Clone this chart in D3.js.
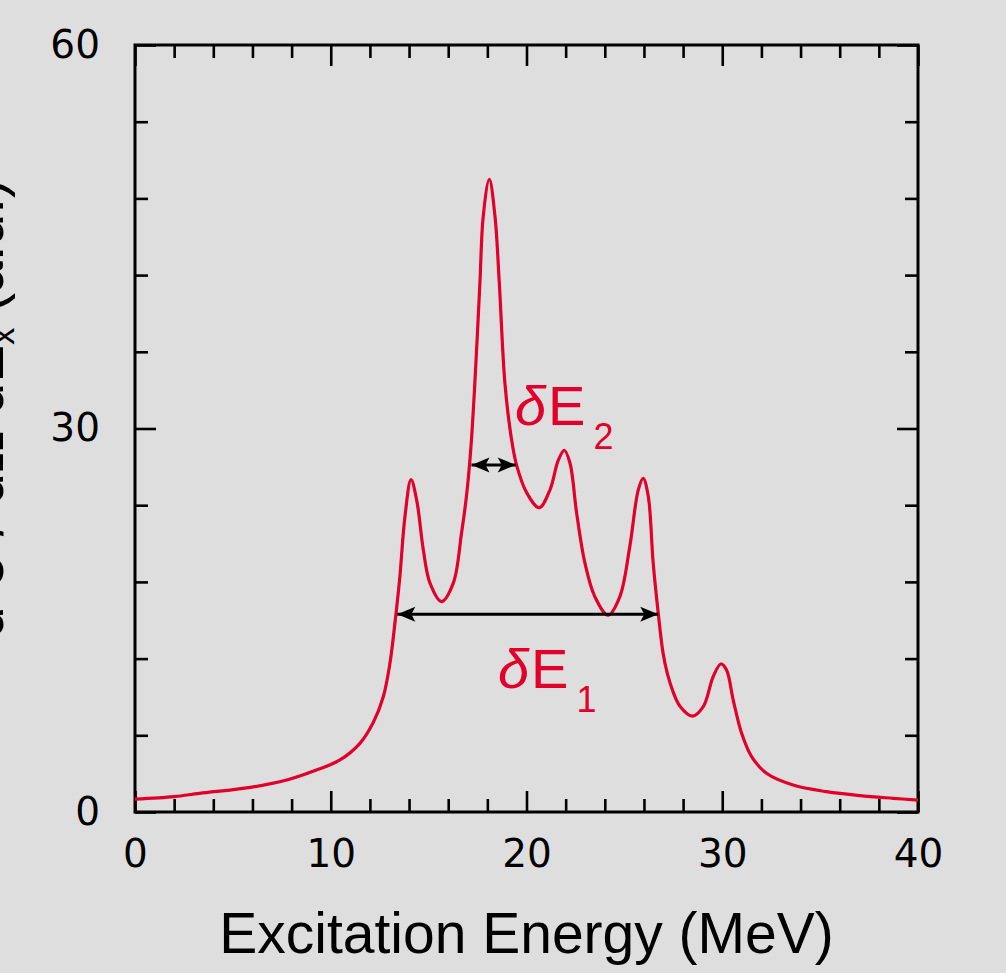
<!DOCTYPE html>
<html lang="en">
<head>
  <meta charset="UTF-8" />
  <title>Excitation Energy spectrum</title>
  <script src="https://d3js.org/d3.v7.min.js"></script>
  <style>
    html, body {
      margin: 0;
      padding: 0;
      background: #dedede;
    }
    svg {
      display: block;
      font-family: "Liberation Sans", Arial, sans-serif;
    }
  </style>
</head>
<body>
  <svg id="chart" width="1006" height="973"></svg>

  <script>
    // curve: excitation energy (MeV) and cross section (arb.)
    const energy = [
      0.0, 2.0, 3.3, 5.9, 7.75, 9.3, 10.47, 11.49, 12.17, 12.68,
      13.02, 13.28, 13.53, 13.79, 14.10, 14.39, 14.73, 15.07, 15.66, 16.26,
      16.68, 16.94, 17.15, 17.36, 17.62, 17.79, 18.10, 18.39, 18.61, 18.90,
      19.24, 19.49, 20.0, 20.65, 21.2, 21.62, 21.93, 22.22, 22.56, 22.98,
      23.49, 24.17, 24.77, 25.28, 25.71, 25.96, 26.22, 26.47, 26.73, 26.98,
      27.2, 27.49, 27.83, 28.48, 29.03, 29.54, 29.93, 30.22, 30.56, 30.99,
      31.5, 32.26, 33.62, 35.33, 37.03, 38.73, 40.0
    ];
    const crossSection = [
      1.0, 1.2, 1.46, 1.93, 2.5, 3.3, 4.07, 5.37, 7.0, 9.0,
      11.6, 14.8, 18.4, 23.1, 26.0, 24.4, 20.5, 17.9, 16.46, 17.9,
      21.8, 24.8, 28.3, 33.5, 41.4, 46.6, 49.5, 46.6, 41.4, 33.5,
      29.1, 27.15, 25.0, 23.8, 25.2, 27.5, 28.3, 27.3, 23.4, 19.5,
      16.85, 15.4, 16.85, 20.8, 25.2, 26.1, 24.7, 19.5, 15.55, 12.4,
      10.8, 9.4, 8.3, 7.5, 8.24, 10.6, 11.58, 11.1, 8.76, 6.16,
      4.33, 3.03, 2.11, 1.59, 1.28, 1.07, 0.93
    ];

    const xMajorTicks = [0, 10, 20, 30, 40];
    const xMinorTicks = [2, 4, 6, 8, 12, 14, 16, 18, 22, 24, 26, 28, 32, 34, 36, 38];
    const yMajorTicks = [0, 30, 60];
    const yMinorTicks = [6, 12, 18, 24, 36, 42, 48, 54];

    // width markers drawn as double arrows, with their red labels
    const widths = [
      { name: 'δE', sub: '1', level: 15.47, from: 13.40, to: 26.73, labelE: 18.54, labelY: 9.7 },
      { name: 'δE', sub: '2', level: 27.15, from: 17.19, to: 19.45, labelE: 19.41, labelY: 30.3 }
    ];

    const red = '#e2002b';
    const margin = { top: 45, right: 88, bottom: 161, left: 135 };
    const W = 1006, H = 973;
    const innerW = W - margin.left - margin.right;
    const innerH = H - margin.top - margin.bottom;

    const svg = d3.select('#chart');
    const g = svg.append('g').attr('transform', `translate(${margin.left},${margin.top})`);

    const x = d3.scaleLinear().domain([0, 40]).range([0, innerW]);
    const y = d3.scaleLinear().domain([0, 60]).range([innerH, 0]);

    function styleAxis(sel) {
      sel.select('.domain').remove();
      sel.selectAll('.tick line').attr('stroke', '#000').attr('stroke-width', 2.6);
      sel.selectAll('.tick text')
        .attr('fill', '#000')
        .style('font-size', '39px')
        .style('font-family', '"DejaVu Sans", sans-serif');
    }

    // bottom
    g.append('g').attr('transform', `translate(0,${innerH})`)
      .call(d3.axisBottom(x).tickValues(xMinorTicks).tickSize(-13).tickFormat(''))
      .call(styleAxis);
    g.append('g').attr('transform', `translate(0,${innerH})`)
      .call(d3.axisBottom(x).tickValues(xMajorTicks).tickSize(-21).tickPadding(27).tickFormat(d3.format('d')))
      .call(styleAxis);
    // top
    g.append('g')
      .call(d3.axisTop(x).tickValues(xMinorTicks).tickSize(-13).tickFormat(''))
      .call(styleAxis);
    g.append('g')
      .call(d3.axisTop(x).tickValues(xMajorTicks).tickSize(-21).tickFormat(''))
      .call(styleAxis);
    // left
    g.append('g')
      .call(d3.axisLeft(y).tickValues(yMinorTicks).tickSize(-13).tickFormat(''))
      .call(styleAxis);
    g.append('g')
      .call(d3.axisLeft(y).tickValues(yMajorTicks).tickSize(-21).tickPadding(35).tickFormat(d3.format('d')))
      .call(styleAxis);
    // right
    g.append('g').attr('transform', `translate(${innerW},0)`)
      .call(d3.axisRight(y).tickValues(yMinorTicks).tickSize(-13).tickFormat(''))
      .call(styleAxis);
    g.append('g').attr('transform', `translate(${innerW},0)`)
      .call(d3.axisRight(y).tickValues(yMajorTicks).tickSize(-21).tickFormat(''))
      .call(styleAxis);

    // frame
    g.append('rect')
      .attr('width', innerW)
      .attr('height', innerH)
      .attr('fill', 'none')
      .attr('stroke', '#000')
      .attr('stroke-width', 3);

    // spectrum
    const points = energy.map((e, i) => [e, crossSection[i]]);
    const line = d3.line()
      .x(d => x(d[0]))
      .y(d => y(d[1]))
      .curve(d3.curveCatmullRom.alpha(0.5));

    g.append('path')
      .datum(points)
      .attr('d', line)
      .attr('fill', 'none')
      .attr('stroke', red)
      .attr('stroke-width', 3.2)
      .attr('stroke-linejoin', 'round');

    // arrow heads
    const defs = svg.append('defs');
    defs.append('marker')
      .attr('id', 'head')
      .attr('markerUnits', 'userSpaceOnUse')
      .attr('viewBox', '-19 -8 20 16')
      .attr('refX', 0).attr('refY', 0)
      .attr('markerWidth', 20).attr('markerHeight', 16)
      .attr('orient', 'auto-start-reverse')
      .append('path')
      .attr('d', 'M0,0 L-18,-7.5 L-14,0 L-18,7.5 Z')
      .attr('fill', '#000');

    widths.forEach(w => {
      g.append('line')
        .attr('x1', x(w.from)).attr('x2', x(w.to))
        .attr('y1', y(w.level)).attr('y2', y(w.level))
        .attr('stroke', '#000')
        .attr('stroke-width', 3)
        .attr('marker-start', 'url(#head)')
        .attr('marker-end', 'url(#head)');

      const t = g.append('text')
        .attr('x', x(w.labelE))
        .attr('y', y(w.labelY))
        .attr('fill', red)
        .style('font-size', '56px');
      t.append('tspan').text(w.name[0]).style('font-style', 'italic');
      t.append('tspan').text(w.name.slice(1)).attr('dx', 2);
      t.append('tspan').text(w.sub).attr('dx', 8).attr('dy', 24).style('font-size', '36px');
    });

    // axis titles
    svg.append('text')
      .attr('x', margin.left + innerW / 2)
      .attr('y', 953)
      .attr('text-anchor', 'middle')
      .attr('fill', '#000')
      .style('font-size', '57px')
      .text('Excitation Energy (MeV)');

    const yt = svg.append('text')
      .attr('transform', 'translate(3,638) rotate(-90)')
      .attr('text-anchor', 'start')
      .attr('fill', '#000')
      .style('font-size', '57px');
    yt.append('tspan').text('d');
    yt.append('tspan').text('2').attr('dy', -22).style('font-size', '34px');
    yt.append('tspan').text('σ / dΩ dE').attr('dy', 22);
    yt.append('tspan').text('x').attr('dy', 11).style('font-size', '34px');
    yt.append('tspan').text(' (a.u.)').attr('dy', -11);
  </script>
</body>
</html>
